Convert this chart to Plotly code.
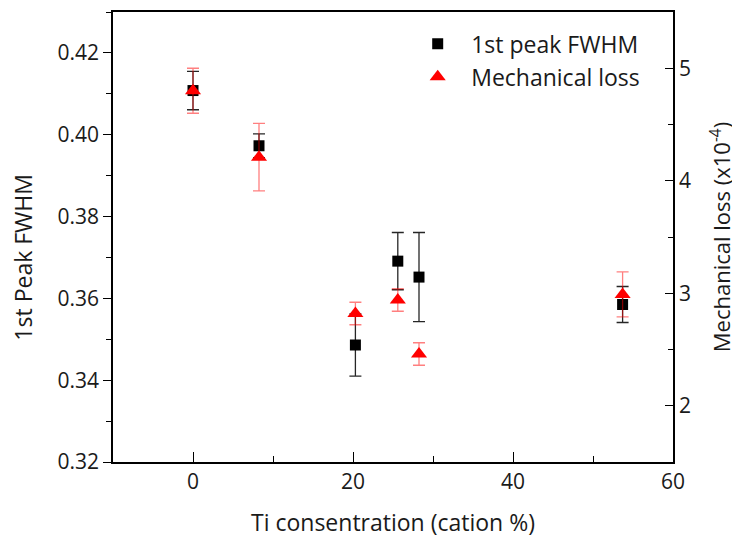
import plotly.graph_objects as go

ti_conc = [0.0, 8.25, 20.3, 25.6, 28.25, 53.7]
fwhm = [0.4108, 0.3973, 0.3486, 0.3691, 0.3652, 0.3585]
fwhm_err = [0.0047, 0.0029, 0.0076, 0.0070, 0.0109, 0.0044]
mech_loss = [4.80, 4.21, 2.82, 2.94, 2.46, 2.99]
mech_err = [0.20, 0.30, 0.10, 0.10, 0.10, 0.20]

FONT = "Open Sans, Noto Sans, sans-serif"
TXT = "#1a1a1a"

fig = go.Figure()
fig.add_trace(go.Scatter(
    x=ti_conc, y=fwhm, mode="markers", name="1st peak FWHM",
    marker=dict(symbol="square", size=11, color="black"),
    error_y=dict(type="data", array=fwhm_err, visible=True, color="rgba(0,0,0,0.85)",
                 thickness=1.3, width=6),
    yaxis="y"))
fig.add_trace(go.Scatter(
    x=ti_conc, y=mech_loss, mode="markers", name="Mechanical loss",
    marker=dict(symbol="triangle-up", size=14, color="red"),
    error_y=dict(type="data", array=mech_err, visible=True, color="rgba(255,0,0,0.5)",
                 thickness=1.3, width=6),
    yaxis="y2"))

fig.update_layout(
    width=732, height=530,
    margin=dict(l=105, r=67, t=4, b=76, autoexpand=False),
    paper_bgcolor="white", plot_bgcolor="white",
    font=dict(family=FONT, size=21, color=TXT),
    showlegend=True,
    legend=dict(x=0.52, y=0.977, xanchor="left", yanchor="top",
                bgcolor="rgba(0,0,0,0)", font=dict(size=23, color=TXT),
                itemwidth=57, tracegroupgap=0),
    xaxis=dict(range=[-10, 60], tick0=0, dtick=20, ticks="inside", ticklen=10,
               tickwidth=1.3, tickcolor="black",
               showline=True, linecolor="black", linewidth=1.5, mirror=True,
               showgrid=False, zeroline=False, automargin=False,
               minor=dict(dtick=10, ticks="inside", ticklen=6, tickcolor="black", showgrid=False),
               title=dict(text="Ti consentration (cation %)", font=dict(size=23, color=TXT), standoff=25),
               tickfont=dict(size=21, color=TXT)),
    yaxis=dict(range=[0.32, 0.43], tick0=0.32, dtick=0.02, tickformat=".2f",
               ticks="outside", ticklen=8, tickwidth=1.3, tickcolor="black",
               showline=True, linecolor="black", linewidth=1.5,
               showgrid=False, zeroline=False, automargin=False,
               minor=dict(dtick=0.01, ticks="outside", ticklen=5, tickcolor="black", showgrid=False),
               tickfont=dict(size=21, color=TXT)),
    yaxis2=dict(range=[1.5, 5.5], tick0=2, dtick=1, overlaying="y", side="right",
                ticks="inside", ticklen=8, tickwidth=1.3, tickcolor="black",
                showline=True, linecolor="black", linewidth=1.5,
                showgrid=False, zeroline=False, automargin=False,
                minor=dict(dtick=0.5, ticks="inside", ticklen=5, tickcolor="black", showgrid=False),
                title=dict(text="Mechanical loss (x10<sup>-4</sup>)", font=dict(size=22, color=TXT), standoff=25),
                tickfont=dict(size=21, color=TXT)),
    annotations=[dict(text="1st Peak FWHM", textangle=-90, showarrow=False,
                      xref="paper", yref="paper", x=-0.161, y=0.456,
                      xanchor="center", yanchor="middle",
                      font=dict(size=23, color=TXT))],
)

fig.write_html("out.html")
